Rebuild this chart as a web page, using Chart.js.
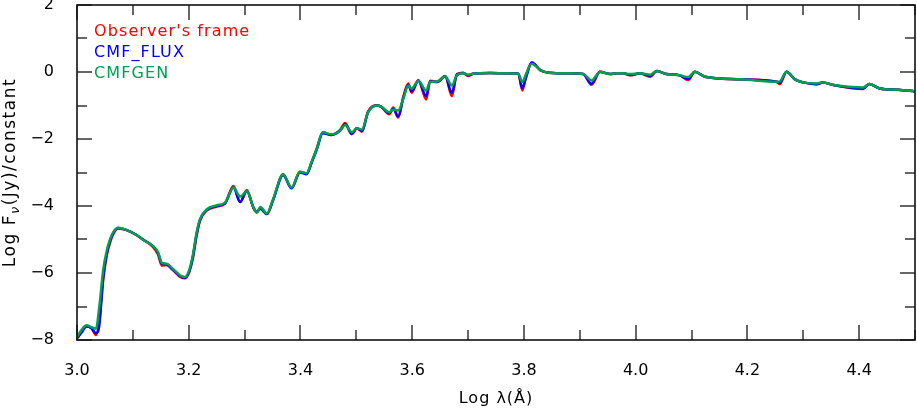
<!DOCTYPE html>
<html>
<head>
<meta charset="utf-8">
<script src="https://cdn.jsdelivr.net/npm/chart.js@4/dist/chart.umd.min.js"></script>
<style>
  html, body { margin: 0; padding: 0; background: #fff; }
  #wrap { width: 917px; height: 409px; }
</style>
</head>
<body>
<div id="wrap"><canvas id="sedChart" width="917" height="409"></canvas></div>
<script>
// Log lambda (Angstrom) sample points
const logLambda = [
  3.000, 3.008, 3.017, 3.026, 3.034, 3.040, 3.047, 3.053, 3.059, 3.066,
  3.074, 3.089, 3.105, 3.120, 3.136, 3.145, 3.152, 3.160, 3.172, 3.185,
  3.193, 3.200, 3.207, 3.214, 3.220, 3.232, 3.250, 3.265, 3.280, 3.292,
  3.304, 3.316, 3.322, 3.328, 3.340, 3.351, 3.369, 3.384, 3.399, 3.411,
  3.420, 3.429, 3.440, 3.455, 3.471, 3.480, 3.492, 3.501, 3.510, 3.521,
  3.536, 3.545, 3.559, 3.566, 3.575, 3.584, 3.593, 3.599, 3.611, 3.625,
  3.632, 3.645, 3.659, 3.671, 3.680, 3.691, 3.700, 3.709, 3.740, 3.770,
  3.790, 3.797, 3.804, 3.814, 3.830, 3.845, 3.880, 3.906, 3.921, 3.936,
  3.954, 3.966, 3.978, 3.990, 4.008, 4.026, 4.038, 4.055, 4.079, 4.094,
  4.106, 4.124, 4.190, 4.252, 4.258, 4.270, 4.285, 4.300, 4.324, 4.335,
  4.354, 4.407, 4.418, 4.437, 4.470, 4.500
];

// Observer's frame
const fluxObs = [
  -7.95, -7.75, -7.58, -7.65, -7.85, -7.40, -6.20, -5.50, -5.10, -4.80,
  -4.67, -4.72, -4.85, -5.02, -5.22, -5.45, -5.78, -5.76, -5.92, -6.12,
  -6.16, -6.00, -5.60, -4.90, -4.45, -4.14, -4.02, -3.92, -3.40, -3.88,
  -3.52, -4.07, -4.18, -4.05, -4.24, -3.82, -3.05, -3.47, -2.98, -3.03,
  -2.70, -2.30, -1.80, -1.88, -1.73, -1.52, -1.85, -1.68, -1.78, -1.18,
  -0.99, -1.05, -1.26, -1.06, -1.36, -0.74, -0.34, -0.62, -0.24, -0.82,
  -0.26, -0.29, -0.12, -0.72, -0.06, -0.02, -0.12, -0.05, -0.03, -0.04,
  -0.05, -0.55, -0.10, 0.28, 0.05, -0.02, -0.04, -0.06, -0.38, 0.01,
  -0.06, -0.04, -0.04, -0.10, -0.04, -0.14, 0.03, -0.06, -0.10, -0.24,
  0.01, -0.14, -0.22, -0.29, -0.36, 0.01, -0.22, -0.31, -0.37, -0.31,
  -0.39, -0.51, -0.36, -0.49, -0.53, -0.58
];

// CMF_FLUX
const fluxCmf = [
  -7.95, -7.78, -7.60, -7.65, -7.80, -7.55, -6.10, -5.45, -5.05, -4.78,
  -4.66, -4.72, -4.85, -5.02, -5.20, -5.40, -5.72, -5.74, -5.90, -6.10,
  -6.14, -6.00, -5.55, -4.85, -4.42, -4.12, -4.00, -3.92, -3.45, -3.88,
  -3.56, -4.05, -4.18, -4.08, -4.24, -3.82, -3.08, -3.47, -3.00, -3.05,
  -2.70, -2.32, -1.83, -1.88, -1.75, -1.56, -1.85, -1.68, -1.76, -1.20,
  -1.00, -1.04, -1.23, -1.10, -1.33, -0.78, -0.38, -0.58, -0.26, -0.72,
  -0.28, -0.30, -0.13, -0.62, -0.08, -0.03, -0.10, -0.05, -0.03, -0.04,
  -0.05, -0.48, -0.15, 0.28, 0.05, -0.02, -0.04, -0.06, -0.35, 0.01,
  -0.06, -0.04, -0.04, -0.09, -0.04, -0.12, 0.03, -0.06, -0.10, -0.21,
  0.01, -0.14, -0.22, -0.29, -0.32, 0.01, -0.22, -0.31, -0.36, -0.31,
  -0.39, -0.49, -0.36, -0.49, -0.53, -0.58
];

// CMFGEN
const fluxGen = [
  -7.90, -7.70, -7.56, -7.62, -7.66, -7.00, -5.90, -5.35, -5.00, -4.75,
  -4.65, -4.72, -4.85, -5.02, -5.20, -5.38, -5.70, -5.72, -5.88, -6.08,
  -6.12, -5.95, -5.50, -4.80, -4.40, -4.10, -3.98, -3.90, -3.45, -3.72,
  -3.56, -4.05, -4.20, -4.03, -4.22, -3.80, -3.06, -3.45, -2.98, -3.02,
  -2.68, -2.30, -1.80, -1.86, -1.75, -1.58, -1.80, -1.68, -1.72, -1.20,
  -1.00, -1.04, -1.20, -1.12, -1.15, -0.80, -0.40, -0.50, -0.26, -0.55,
  -0.30, -0.28, -0.13, -0.40, -0.10, -0.04, -0.08, -0.05, -0.03, -0.04,
  -0.05, -0.30, -0.05, 0.25, 0.05, -0.02, -0.04, -0.06, -0.25, 0.00,
  -0.06, -0.04, -0.04, -0.06, -0.04, -0.08, 0.03, -0.06, -0.10, -0.15,
  0.01, -0.14, -0.22, -0.29, -0.28, 0.01, -0.22, -0.31, -0.34, -0.31,
  -0.39, -0.46, -0.36, -0.49, -0.53, -0.58
];

const seriesNames = ["Observer's frame", 'CMF_FLUX', 'CMFGEN'];
const seriesColors = ['#ff0000', '#0000ff', '#00a050'];
const seriesValues = [fluxObs, fluxCmf, fluxGen];

const FONT = '"DejaVu Sans", sans-serif';

const toPoints = ys => logLambda.map((x, i) => ({ x: x, y: ys[i] }));

// frame, inward ticks, legend text and axis titles
const framePlugin = {
    id: 'framePlugin',
    afterDraw(chart) {
        const { ctx, chartArea: a, scales: { x, y } } = chart;
        ctx.save();

        // inward ticks on all four sides
        ctx.strokeStyle = '#666';
        ctx.lineWidth = 2;
        ctx.beginPath();
        for (let i = 30; i <= 45; i++) {
            const px = Math.round(x.getPixelForValue(i / 10));
            const len = i % 2 === 0 ? 15 : 10;
            ctx.moveTo(px, a.bottom); ctx.lineTo(px, a.bottom - len);
            ctx.moveTo(px, a.top); ctx.lineTo(px, a.top + len);
        }
        for (let v = -8; v <= 2; v++) {
            const py = Math.round(y.getPixelForValue(v));
            const len = v % 2 === 0 ? 15 : 10;
            ctx.moveTo(a.left, py); ctx.lineTo(a.left + len, py);
            ctx.moveTo(a.right, py); ctx.lineTo(a.right - len, py);
        }
        ctx.stroke();

        ctx.strokeStyle = '#111';
        ctx.lineWidth = 1.6;
        ctx.strokeRect(a.left, a.top, a.right - a.left, a.bottom - a.top);

        // legend
        ctx.font = '16px ' + FONT;
        ctx.letterSpacing = '1.1px';
        ctx.textBaseline = 'alphabetic';
        ctx.textAlign = 'left';
        chart.data.datasets.forEach((ds, i) => {
            ctx.fillStyle = ds.borderColor;
            ctx.fillText(ds.label, a.left + 17, a.top + 31 + i * 21);
        });

        // x title
        ctx.fillStyle = '#000';
        ctx.textAlign = 'center';
        ctx.font = '16px ' + FONT;
        ctx.letterSpacing = '1px';
        ctx.fillText('Log λ(Å)', (a.left + a.right) / 2, 403);

        // y title with subscript nu
        ctx.letterSpacing = '1.5px';
        ctx.translate(15, (a.top + a.bottom) / 2);
        ctx.rotate(-Math.PI / 2);
        const p1 = 'Log F', sub = 'ν', p2 = '(Jy)/constant';
        ctx.font = '17px ' + FONT;
        const w1 = ctx.measureText(p1).width, w3 = ctx.measureText(p2).width;
        ctx.font = 'italic 13px ' + FONT;
        const w2 = ctx.measureText(sub).width;
        let sx = -(w1 + w2 + w3) / 2;
        ctx.textAlign = 'left';
        ctx.font = '17px ' + FONT;
        ctx.fillText(p1, sx, 0);
        sx += w1;
        ctx.font = 'italic 13px ' + FONT;
        ctx.fillText(sub, sx, 4);
        sx += w2;
        ctx.font = '17px ' + FONT;
        ctx.fillText(p2, sx, 0);
        ctx.restore();
    }
};

const ctx = document.getElementById('sedChart').getContext('2d');
const sedChart = new Chart(ctx, {
    type: 'line',
    data: {
        datasets: seriesNames.map((name, i) => ({
            label: name,
            data: toPoints(seriesValues[i]),
            borderColor: seriesColors[i],
            borderWidth: 2.5,
            pointRadius: 0,
            cubicInterpolationMode: 'monotone',
            fill: false,
            order: 3 - i
        }))
    },
    options: {
        responsive: false,
        animation: false,
        layout: { padding: { top: 5, right: 2, left: 0, bottom: 0 } },
        plugins: { legend: { display: false }, tooltip: { enabled: false } },
        scales: {
            x: {
                type: 'linear',
                min: 3.0,
                max: 4.5,
                grid: { display: false },
                border: { display: false },
                ticks: {
                    stepSize: 0.2,
                    padding: 13,
                    color: '#000',
                    font: { family: FONT, size: 16 },
                    callback: v => (v > 4.45 ? '' : v.toFixed(1))
                },
                afterFit: s => { s.height = 69; s.paddingLeft = 0; s.paddingRight = 0; }
            },
            y: {
                min: -8,
                max: 2,
                grid: { display: false },
                border: { display: false },
                ticks: {
                    stepSize: 2,
                    padding: 15,
                    color: '#000',
                    font: { family: FONT, size: 16 },
                    callback: v => String(v).replace('-', '\u2212')
                },
                afterFit: s => { s.width = 77; s.paddingTop = 0; s.paddingBottom = 0; }
            }
        }
    },
    plugins: [framePlugin]
});
</script>
</body>
</html>
